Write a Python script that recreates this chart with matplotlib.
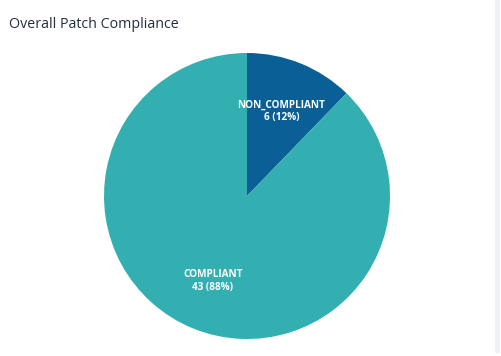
import matplotlib.pyplot as plt
from matplotlib.patches import Rectangle

# data
categories = ['NON_COMPLIANT', 'COMPLIANT']
counts = [6, 43]
colors = ['#0B5F97', '#34AFB1']

total = sum(counts)
labels = [f'{c}\n{v} ({round(v * 100 / total)}%)' for c, v in zip(categories, counts)]

fig = plt.figure(figsize=(5.02, 3.56), dpi=100)
fig.patch.set_facecolor('white')

# light scrollbar-ish strip on the right
fig.patches.append(Rectangle((495 / 502, 3 / 356), 5 / 502, 353 / 356,
                             transform=fig.transFigure, facecolor='#EEF1F4',
                             edgecolor='none'))

fig.text(9 / 502, 1 - 17 / 356, 'Overall Patch Compliance', ha='left', va='top',
         fontsize=10.3, color='#232F3E', fontweight='medium',
         family=['Open Sans', 'DejaVu Sans'])

ax = fig.add_axes([104 / 502, 17 / 356, 286 / 502, 286 / 356])
wedges, texts = ax.pie(counts, labels=labels, colors=colors, startangle=90,
                       counterclock=False, labeldistance=0.64,
                       wedgeprops=dict(linewidth=0),
                       textprops=dict(color='white', fontsize=7.2, fontweight='bold',
                                      family=['Open Sans', 'DejaVu Sans'],
                                      linespacing=1.2))
for t in texts:
    t.set_ha('center')
    t.set_va('center')
ax.set_xlim(-1, 1)
ax.set_ylim(-1, 1)
ax.set_aspect('equal')
ax.axis('off')

fig.savefig('out.png', dpi=100)
